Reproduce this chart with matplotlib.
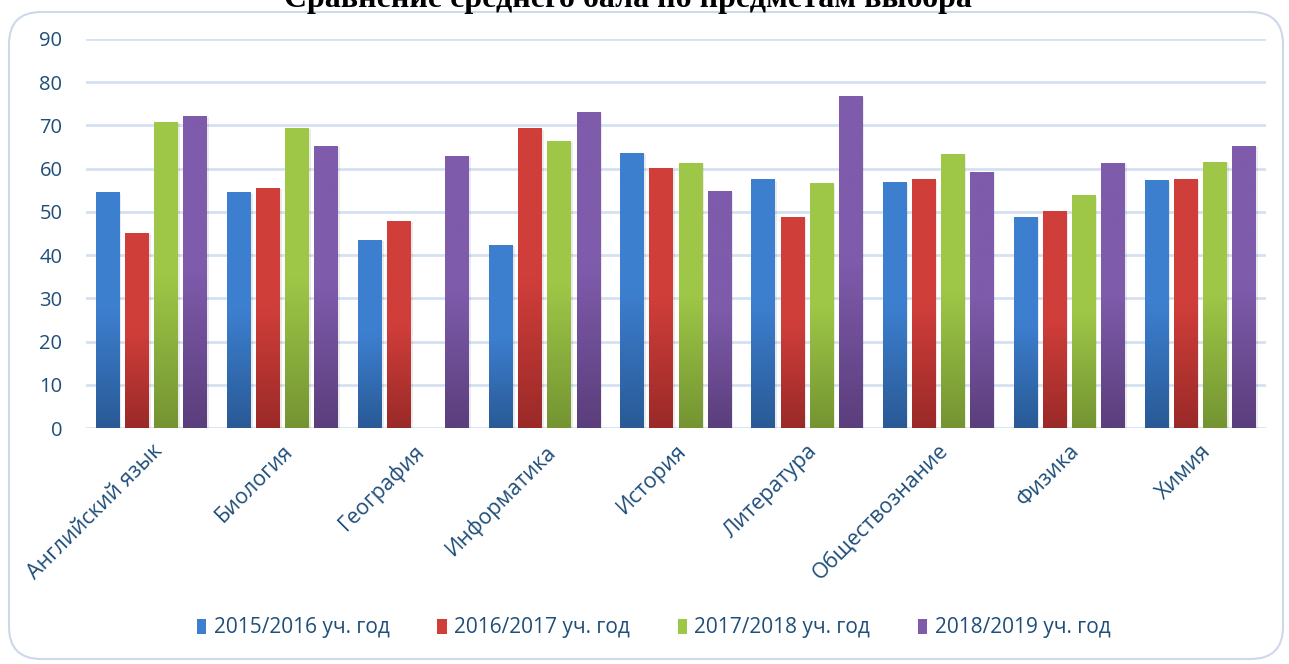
import numpy as np
import matplotlib
matplotlib.use("Agg")
import matplotlib.pyplot as plt
from matplotlib.patches import FancyBboxPatch, Patch
from matplotlib.colors import LinearSegmentedColormap

# предметы и средний балл по годам
subjects = ["Английский язык", "Биология", "География", "Информатика", "История",
            "Литература", "Обществознание", "Физика", "Химия"]
years = ["2015/2016 уч. год", "2016/2017 уч. год", "2017/2018 уч. год", "2018/2019 уч. год"]
y2015 = [54.5, 54.5, 43.6, 42.4, 63.7, 57.5, 56.8, 48.9, 57.3]
y2016 = [45.2, 55.6, 48.0, 69.3, 60.2, 48.9, 57.5, 50.1, 57.5]
y2017 = [70.9, 69.5, 0, 66.5, 61.4, 56.6, 63.5, 53.8, 61.6]
y2018 = [72.3, 65.3, 63.0, 73.2, 54.9, 76.9, 59.3, 61.4, 65.3]
series = [y2015, y2016, y2017, y2018]

# цвета: верх столбца / низ столбца
tops = ["#3D7FCF", "#D03E3A", "#9EC747", "#7E5BAB"]
bottoms = ["#295A96", "#9A2A28", "#749432", "#5B3E7C"]

text_color = "#1F4E79"
plt.rcParams['font.family'] = ['Open Sans', 'DejaVu Sans']

fig = plt.figure(figsize=(12.89, 6.64), dpi=100)

# рамка вокруг диаграммы
frame = FancyBboxPatch((9 / 1289, 5 / 664), 1274 / 1289, 647 / 664,
                       boxstyle="round,pad=0,rounding_size=0.025",
                       transform=fig.transFigure, fc="white", ec="#CDD8EA", lw=1.5,
                       mutation_aspect=1289 / 664, zorder=-5)
fig.patches.append(frame)

fig.text(0.487, 1 - 7 / 664, "Сравнение среднего бала по предметам выбора",
         ha="center", va="baseline", fontsize=23, fontweight="bold",
         family=["Liberation Serif", "DejaVu Serif"], color="black")

ax = fig.add_axes([86 / 1289, 1 - 428 / 664, 1180 / 1289, 389 / 664])
ax.set_facecolor("none")

x = np.arange(len(subjects))
pitch = 0.222
width = 0.183
offsets = (np.arange(4) - 1.5) * pitch

grad = np.linspace(0, 1, 256).reshape(-1, 1)
for i, vals in enumerate(series):
    cmap = LinearSegmentedColormap.from_list(f"c{i}", [bottoms[i], tops[i], tops[i]])
    bars = ax.bar(x + offsets[i], vals, width, color=tops[i], zorder=3)
    for b in bars:
        h = b.get_height()
        if h <= 0:
            continue
        x0 = b.get_x()
        # лёгкая тень справа от столбца
        ax.bar(x0 + width / 2 + 0.012, h, width, bottom=-0.4, color="#000000",
               alpha=0.08, zorder=2)
        im = ax.imshow(grad, extent=(x0, x0 + width, 0, h), origin="lower",
                       cmap=cmap, aspect="auto", zorder=4)
        im.set_clip_path(b)

ax.set_xlim(-0.5, len(subjects) - 0.5)
ax.set_ylim(0, 90)
ax.set_yticks(range(0, 91, 10))
ax.yaxis.grid(True, color="#D5E1F1", lw=2)
ax.set_axisbelow(True)
for s in ax.spines.values():
    s.set_visible(False)
ax.tick_params(length=0)
ax.tick_params(axis="y", pad=17, labelsize=14.5, labelcolor=text_color)
ax.set_xticks(x)
ax.set_xticklabels(subjects, rotation=45, ha="right", va="top",
                   rotation_mode="anchor", fontsize=15.5, color=text_color)
ax.tick_params(axis="x", pad=9)

handles = [Patch(facecolor=tops[i], edgecolor="none") for i in range(4)]
fig.legend(handles, years, loc="center", bbox_to_anchor=(0.507, 1 - 628 / 664),
           ncol=4, frameon=False, fontsize=15, labelcolor=text_color,
           handlelength=0.45, handleheight=0.75, handletextpad=0.35, columnspacing=2.3)

fig.savefig("out.png", dpi=100)
